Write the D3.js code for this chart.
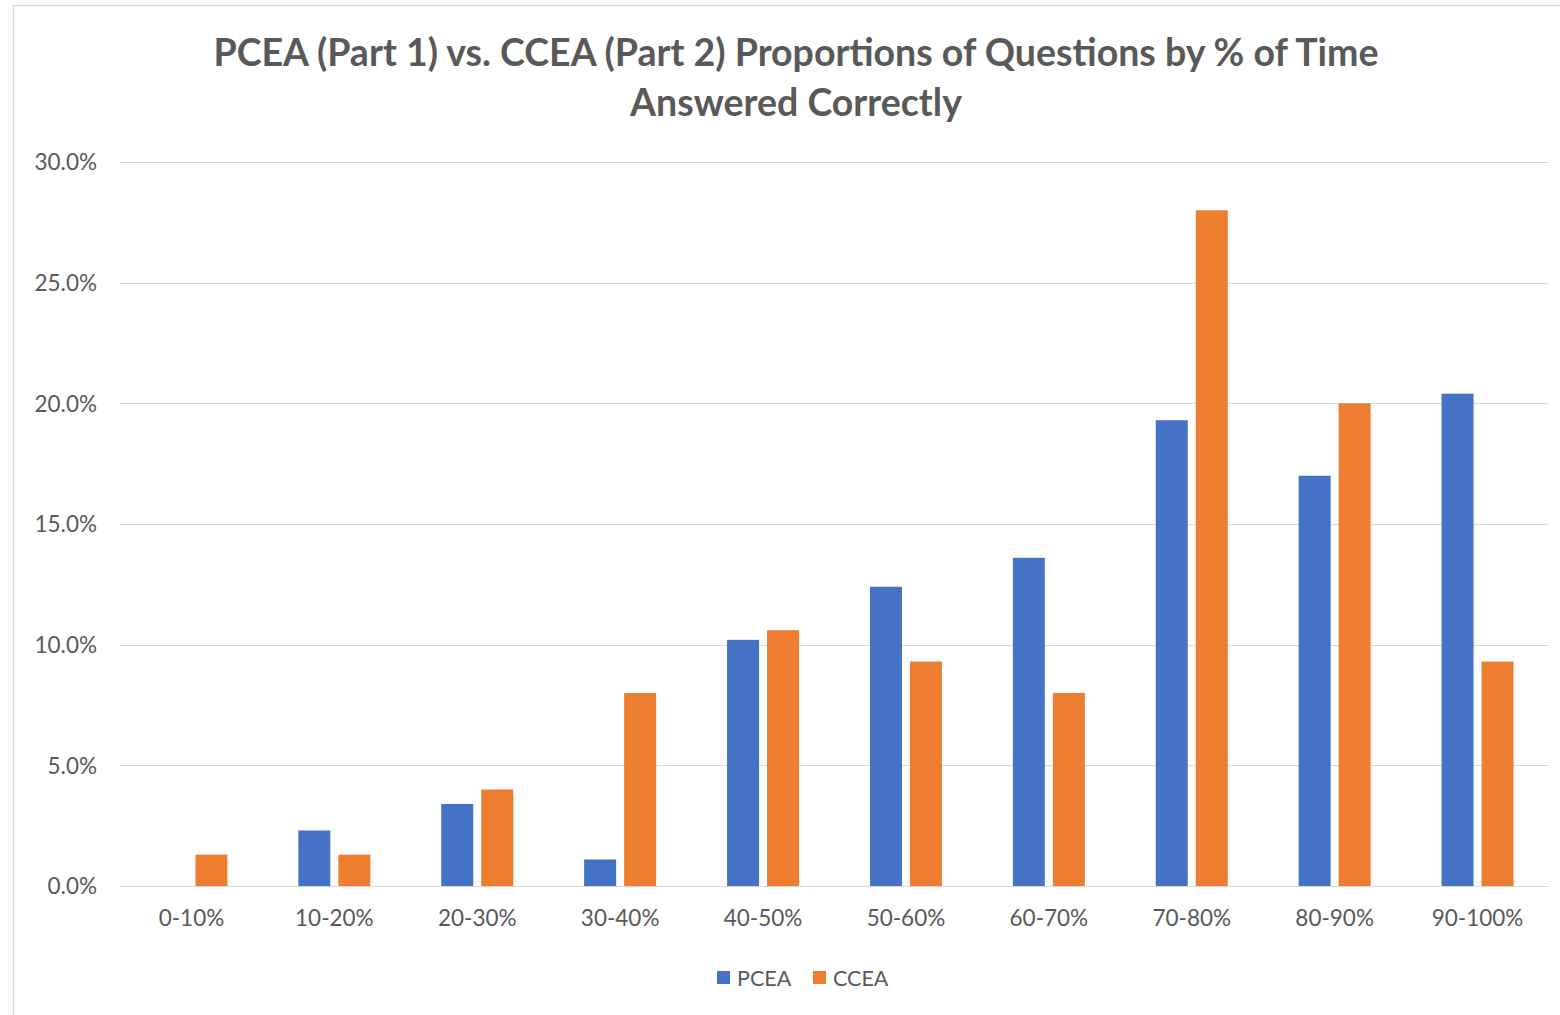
<!DOCTYPE html>
<html><head><meta charset="utf-8">
<script src="https://cdn.jsdelivr.net/npm/d3@7"></script>
<style>body{margin:0;background:#fff;}svg{display:block;}</style>
</head><body>
<svg id="c" width="1560" height="1015"></svg>
<script>
const categories = ["0-10%","10-20%","20-30%","30-40%","40-50%","50-60%","60-70%","70-80%","80-90%","90-100%"];
const pcea = [0, 2.3, 3.4, 1.1, 10.2, 12.4, 13.6, 19.3, 17.0, 20.4];
const ccea = [1.3, 1.3, 4.0, 8.0, 10.6, 9.3, 8.0, 28.0, 20.0, 9.3];
const seriesNames = ["PCEA","CCEA"];
const yTicks = [0,5,10,15,20,25,30];
const titleLines = ["PCEA (Part 1) vs. CCEA (Part 2) Proportions of Questions by % of Time","Answered Correctly"];

const colors = ["#4472C4","#ED7D31"];
const svg = d3.select("#c");
const font = "Lato, 'Open Sans', sans-serif";

svg.append("rect").attr("x",13.5).attr("y",5.5).attr("width",1600).attr("height",1100)
  .attr("fill","#fff").attr("stroke","#d9d9d9").attr("stroke-width",1.5);

const L=120, R=1549, T=162, B=886;
const x = d3.scaleBand().domain(categories).range([L,R]).paddingInner(0).paddingOuter(0);
const y = d3.scaleLinear().domain([0,30]).range([B,T]);

// gridlines
svg.append("g").selectAll("line").data(yTicks).join("line")
  .attr("x1",L).attr("x2",R).attr("y1",d=>Math.round(y(d))+0.5).attr("y2",d=>Math.round(y(d))+0.5)
  .attr("stroke","#d9d9d9").attr("stroke-width",1);

// y axis labels
const yAxis = d3.axisLeft(y).tickValues(yTicks).tickFormat(d=>d.toFixed(1)+"%").tickSize(0).tickPadding(0);
const gy = svg.append("g").attr("transform",`translate(97,0)`).call(yAxis);
gy.select(".domain").remove();
gy.selectAll("text").attr("font-family",font).attr("font-size",22.5).attr("fill","#595959").attr("dy","0.35em");

// x axis labels
const xAxis = d3.axisBottom(x).tickSize(0).tickPadding(0);
const gx = svg.append("g").attr("transform",`translate(0,${B})`).call(xAxis);
gx.select(".domain").remove();
gx.selectAll("text").attr("font-family",font).attr("font-size",22.5).attr("fill","#595959").attr("dy",null).attr("y",40);

// bars
const sub = d3.scaleBand().domain(seriesNames).range([0,x.bandwidth()]).paddingInner(0.2).paddingOuter(0.886);
const data = categories.map((c,i)=>({c, vals:[pcea[i],ccea[i]]}));
const g = svg.append("g");
data.forEach(d=>{
  d.vals.forEach((v,j)=>{
    if(v<=0) return;
    g.append("rect").attr("x",x(d.c)+sub(seriesNames[j])).attr("width",sub.bandwidth())
      .attr("y",y(v)).attr("height",y(0)-y(v)).attr("fill",colors[j]);
  });
});

// title
svg.append("g").selectAll("text").data(titleLines).join("text")
  .attr("x",796).attr("y",(d,i)=>66+i*50).attr("text-anchor","middle")
  .attr("font-family",font).attr("font-weight","bold").attr("font-size",37.5).attr("fill","#595959")
  .text(d=>d);

// legend
const lg = svg.append("g");
const lx=[717,813];
seriesNames.forEach((s,i)=>{
  lg.append("rect").attr("x",lx[i]).attr("y",971).attr("width",13).attr("height",13).attr("fill",colors[i]);
  lg.append("text").attr("x",lx[i]+20).attr("y",986).attr("font-family",font).attr("font-size",21.5)
    .attr("fill","#595959").text(s);
});
</script>
</body></html>
